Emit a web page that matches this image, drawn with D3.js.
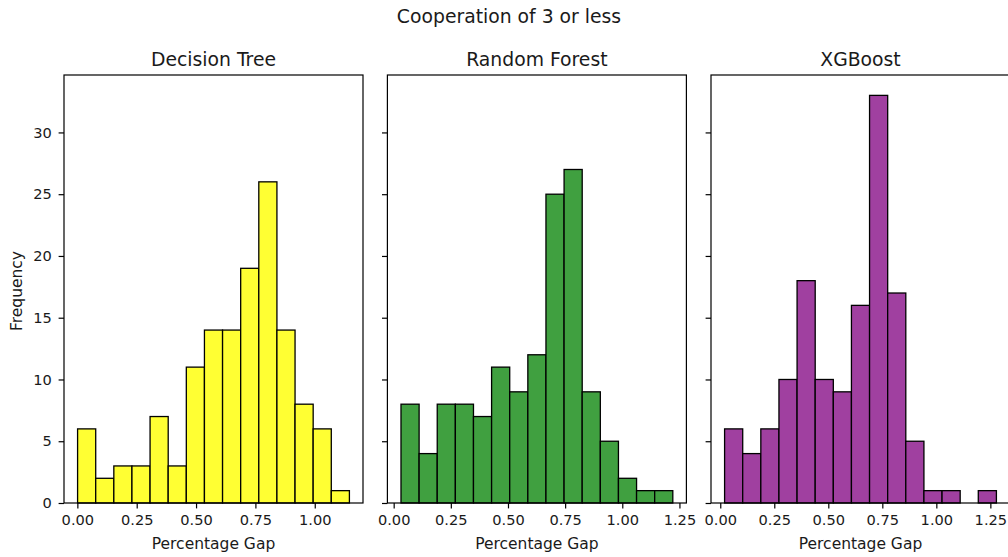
<!DOCTYPE html>
<html>
<head>
<meta charset="utf-8">
<script src="https://cdn.jsdelivr.net/npm/d3@7"></script>
<style>
  html, body { margin: 0; padding: 0; background: #fff; }
  svg { display: block; font-family: "DejaVu Sans", sans-serif; }
</style>
</head>
<body>
<svg id="chart" width="1008" height="557"></svg>
<script>
// Histogram counts per model (15 equal-width bins each)
const modelNames = ["Decision Tree", "Random Forest", "XGBoost"];
const dtCounts  = [6, 2, 3, 3, 7, 3, 11, 14, 14, 19, 26, 14, 8, 6, 1];
const rfCounts  = [8, 4, 8, 8, 7, 11, 9, 12, 25, 27, 9, 5, 2, 1, 1];
const xgbCounts = [6, 4, 6, 10, 18, 10, 9, 16, 33, 17, 5, 1, 1, 0, 1];
// Smallest and largest percentage gap per model (outer bin edges)
const dtRange  = [0.001, 1.146];
const rfRange  = [0.032, 1.221];
const xgbRange = [0.020, 1.278];
const barColors = ["#ffff33", "#40a040", "#a040a0"];
const xTickValues = [0, 0.25, 0.5, 0.75, 1.0, 1.25];
const yTickValues = [0, 5, 10, 15, 20, 25, 30];
const suptitle = "Cooperation of 3 or less";
const xLabel = "Percentage Gap";
const yLabel = "Frequency";

const panels = [
  { name: modelNames[0], counts: dtCounts,  range: dtRange,  color: barColors[0] },
  { name: modelNames[1], counts: rfCounts,  range: rfRange,  color: barColors[1] },
  { name: modelNames[2], counts: xgbCounts, range: xgbRange, color: barColors[2] }
];

const svg = d3.select("#chart");
const plotTop = 75, plotBottom = 503, panelW = 299;
const lefts = [64, 387.4, 711];
const tickLen = 5.4;
const tickFont = "14.6px", labelFont = "15.5px", titleFont = "18.8px";
const textColor = "#1a1a1a";

const yMax = d3.max(panels, p => d3.max(p.counts)) * 1.05;
const y = d3.scaleLinear().domain([0, yMax]).range([plotBottom, plotTop]);

svg.append("text")
  .attr("x", 509).attr("y", 23)
  .attr("text-anchor", "middle")
  .style("font-size", titleFont)
  .attr("fill", textColor)
  .text(suptitle);

panels.forEach((p, i) => {
  const left = lefts[i];
  const n = p.counts.length;
  const span = p.range[1] - p.range[0];
  const margin = span * 0.05;
  const x = d3.scaleLinear()
    .domain([p.range[0] - margin, p.range[1] + margin])
    .range([left, left + panelW]);
  const edges = d3.range(n + 1).map(k => p.range[0] + span * k / n);
  const bins = p.counts.map((c, k) => ({ x0: edges[k], x1: edges[k + 1], c }));

  const g = svg.append("g");

  // bars
  g.selectAll("rect.bar")
    .data(bins.filter(b => b.c > 0))
    .join("rect")
    .attr("class", "bar")
    .attr("x", d => x(d.x0))
    .attr("width", d => x(d.x1) - x(d.x0))
    .attr("y", d => y(d.c))
    .attr("height", d => y(0) - y(d.c))
    .attr("fill", p.color)
    .attr("stroke", "#000")
    .attr("stroke-width", 1.3);

  // frame
  g.append("rect")
    .attr("x", left).attr("y", plotTop)
    .attr("width", panelW).attr("height", plotBottom - plotTop)
    .attr("fill", "none")
    .attr("stroke", "#000")
    .attr("stroke-width", 1.2);

  // x axis
  const xd = x.domain();
  const xAxis = d3.axisBottom(x)
    .tickValues(xTickValues.filter(v => v >= xd[0] && v <= xd[1]))
    .tickFormat(d3.format(".2f"))
    .tickSize(tickLen).tickPadding(6.2);
  const xg = g.append("g").attr("transform", `translate(0,${plotBottom})`).call(xAxis);
  xg.select(".domain").remove();
  xg.selectAll(".tick line").attr("stroke", "#000").attr("stroke-width", 1.2);
  xg.selectAll(".tick text")
    .style("font-size", tickFont)
    .style("font-family", "DejaVu Sans, sans-serif")
    .attr("fill", textColor);

  // y axis
  const yAxis = d3.axisLeft(y)
    .tickValues(yTickValues)
    .tickFormat(i === 0 ? d3.format("d") : () => "")
    .tickSize(tickLen).tickPadding(6.8);
  const yg = g.append("g").attr("transform", `translate(${left},0)`).call(yAxis);
  yg.select(".domain").remove();
  yg.selectAll(".tick line").attr("stroke", "#000").attr("stroke-width", 1.2);
  yg.selectAll(".tick text")
    .style("font-size", tickFont)
    .style("font-family", "DejaVu Sans, sans-serif")
    .attr("fill", textColor);

  // subplot title
  g.append("text")
    .attr("x", left + panelW / 2).attr("y", 66)
    .attr("text-anchor", "middle")
    .style("font-size", titleFont)
    .attr("fill", textColor)
    .text(p.name);

  // x label
  g.append("text")
    .attr("x", left + panelW / 2).attr("y", 549)
    .attr("text-anchor", "middle")
    .style("font-size", labelFont)
    .attr("fill", textColor)
    .text(xLabel);

  if (i === 0) {
    g.append("text")
      .attr("transform", `translate(22,${(plotTop + plotBottom) / 2 + 2}) rotate(-90)`)
      .attr("text-anchor", "middle")
      .style("font-size", labelFont)
      .attr("fill", textColor)
      .text(yLabel);
  }
});
</script>
</body>
</html>
